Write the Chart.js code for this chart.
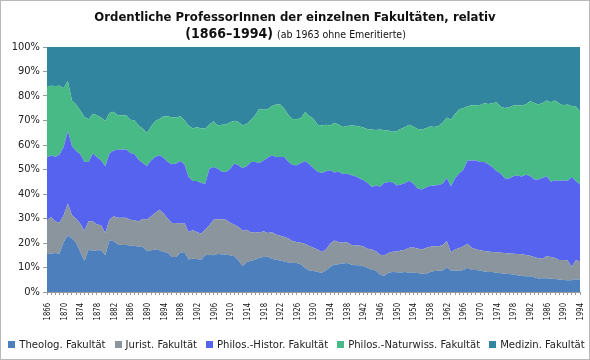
<!DOCTYPE html>
<html>
<head>
<meta charset="utf-8">
<script src="https://cdn.jsdelivr.net/npm/chart.js@4.4.0/dist/chart.umd.min.js"></script>
<style>
  html, body { margin: 0; padding: 0; background: #fff; }
  canvas { display: block; }
</style>
</head>
<body>
<canvas id="chart" width="590" height="360"></canvas>
<script>
const jahre = [
  1866,1867,1868,1869,1870,1871,1872,1873,1874,1875,1876,1877,1878,1879,1880,1881,
  1882,1883,1884,1885,1886,1887,1888,1889,1890,1891,1892,1893,1894,1895,1896,1897,
  1898,1899,1900,1901,1902,1903,1904,1905,1906,1907,1908,1909,1910,1911,1912,1913,
  1914,1915,1916,1917,1918,1919,1920,1921,1922,1923,1924,1925,1926,1927,1928,1929,
  1930,1931,1932,1933,1934,1935,1936,1937,1938,1939,1940,1941,1942,1943,1944,1945,
  1946,1947,1948,1949,1950,1951,1952,1953,1954,1955,1956,1957,1958,1959,1960,1961,
  1962,1963,1964,1965,1966,1967,1968,1969,1970,1971,1972,1973,1974,1975,1976,1977,
  1978,1979,1980,1981,1982,1983,1984,1985,1986,1987,1988,1989,1990,1991,1992,1993,
  1994
];

// Anteile in Prozent je Jahr
const theolog = [15.6,15.6,15.9,15.6,20.4,23.1,21.8,20.1,16.3,12.7, 17.3,16.7,17.0,17.0,15.0,21.1,20.7,19.5,19.2,19.2,
  19.0,18.8,18.6,18.4,16.6,17.0,17.3,17.0,16.3,16.1, 14.3,14.3,15.9,16.3,13.3,13.6,13.5,13.2,15.0,15.2,
  15.0,15.5,15.4,15.2,15.0,14.6,12.9,10.6,12.2,12.8, 13.2,14.0,14.3,14.4,13.6,13.2,12.9,12.4,12.0,11.8,
  11.8,11.2,9.8,8.8,8.6,8.2,7.9,8.8,10.2,11.2, 11.3,11.6,11.8,11.2,10.9,10.9,10.5,9.9,9.1,8.8,
  7.0,6.6,7.9,8.2,8.1,8.0,8.2,7.9,7.9,7.8, 7.4,7.3,8.2,8.6,8.7,8.8,10.0,8.8,8.8,8.6,
  9.0,9.9,9.0,9.0,8.8,8.4,8.2,8.2,7.9,7.7, 7.5,7.3,7.1,6.8,6.5,6.4,6.4,6.0,5.5,5.6,
  5.6,5.4,5.3,5.1,4.9,4.8,4.8,5.2,5.0];
const jurist = [13.7,15.0,12.9,12.8,10.9,13.0,9.5,9.8,11.6,12.2, 11.7,12.1,10.6,10.2,9.1,8.4,10.2,10.8,11.1,11.1,
  10.5,10.5,10.2,11.5,12.9,13.9,14.9,16.6,15.7,13.8, 13.9,13.9,12.0,11.9,11.2,11.6,11.0,10.6,10.4,12.0,
  14.5,14.2,14.3,14.3,13.3,12.9,13.6,14.4,13.2,11.4, 11.3,10.2,10.5,9.7,10.8,10.3,10.1,10.0,9.8,8.9,
  8.6,8.9,9.8,10.0,9.5,9.1,8.4,8.5,9.5,9.8, 9.1,8.5,8.6,8.1,8.1,8.1,8.1,7.8,8.2,7.8,
  8.2,8.4,8.0,8.2,8.4,8.9,9.0,10.2,10.3,10.0, 9.9,10.7,10.3,10.1,10.0,10.3,10.8,7.4,8.5,9.4,
  9.7,9.8,9.1,8.5,8.2,8.3,8.3,8.1,8.3,8.3, 8.4,8.4,8.5,8.7,8.9,8.7,8.4,8.3,8.3,8.0,
  9.0,8.9,8.6,8.0,8.2,8.2,5.5,7.8,7.6];
const histor = [25.5,25.2,26.3,27.7,27.9,29.6,28.2,27.7,28.3,28.2, 24.1,27.7,27.5,26.5,27.2,27.0,26.9,27.8,27.9,27.9,
  27.2,26.9,25.2,22.8,21.9,22.8,22.9,22.2,22.8,23.2, 23.9,24.2,25.6,23.9,22.4,20.1,20.8,20.7,18.8,23.1,
  21.5,20.6,19.4,19.5,22.0,24.9,25.2,25.5,26.0,28.9, 28.6,28.5,28.9,30.7,31.4,31.6,32.1,32.7,31.3,31.1,
  31.3,32.6,33.9,33.3,32.4,31.8,32.3,32.0,30.0,27.8, 28.7,28.1,27.9,28.5,28.2,27.4,27.0,26.8,25.6,26.9,
  27.9,29.5,29.0,28.4,27.0,27.0,27.3,27.3,26.0,24.4, 24.5,24.7,24.9,24.8,25.0,25.1,25.7,27.0,29.1,30.5,
  31.2,34.0,35.6,36.2,36.1,36.4,35.6,34.6,33.1,32.3, 30.4,30.6,31.6,32.1,31.7,32.8,32.5,31.6,32.1,32.9,
  32.6,30.7,31.7,32.2,32.5,32.3,36.6,32.3,31.3];
const naturwiss = [29.1,28.4,29.0,28.1,24.1,20.4,18.7,18.9,17.9,18.3, 17.4,16.3,17.0,17.5,18.5,16.6,15.8,14.0,13.9,13.9,
  13.6,13.9,14.0,14.0,13.5,13.9,14.7,14.8,16.9,18.6, 19.1,18.8,18.2,18.0,21.1,21.4,22.0,22.2,22.5,18.1,
  18.7,17.7,19.2,19.4,19.0,17.5,17.7,17.5,17.3,17.2, 19.0,22.1,20.7,19.8,20.1,21.4,21.4,19.7,19.0,18.8,
  18.8,18.3,20.0,19.7,20.2,19.2,19.4,19.0,18.3,20.3, 19.3,19.1,19.5,20.2,20.7,21.2,21.5,21.9,23.4,22.6,
  23.2,21.5,21.0,20.6,22.2,22.7,22.8,22.9,23.4,24.3, 24.5,24.1,24.2,23.8,24.1,24.9,24.7,27.1,26.4,26.1,
  25.1,22.1,22.5,22.5,23.2,23.9,24.6,26.1,28.1,27.2, 28.8,29.1,28.9,28.6,29.1,28.6,30.7,31.2,30.6,30.6,
  31.0,32.4,32.6,31.6,30.6,31.2,29.0,30.5,29.8];
const medizin = [16.1,15.8,15.9,15.8,16.7,13.9,21.8,23.5,25.9,28.6, 29.5,27.2,27.9,28.8,30.2,26.9,26.4,27.9,27.9,27.9,
  29.7,29.9,32.0,33.3,35.1,32.4,30.2,29.4,28.3,28.3, 28.8,28.8,28.3,29.9,32.0,33.3,32.7,33.3,33.3,31.6,
  30.3,32.0,31.7,31.6,30.7,30.1,30.6,32.0,31.3,29.7, 27.9,25.2,25.6,25.4,24.1,23.5,23.5,25.2,27.9,29.4,
  29.5,29.0,26.5,28.2,29.3,31.7,32.0,31.7,32.0,30.9, 31.6,32.7,32.2,32.0,32.1,32.4,32.9,33.6,33.7,33.9,
  33.7,34.0,34.1,34.6,34.3,33.4,32.7,31.7,32.4,33.5, 33.7,33.2,32.4,32.7,32.2,30.9,28.8,29.7,27.2,25.4,
  25.0,24.2,23.8,23.8,23.7,23.0,23.3,23.0,22.6,24.5, 24.9,24.6,23.9,23.8,23.8,23.5,22.0,22.9,23.5,22.9,
  21.8,22.6,21.8,23.1,23.8,23.5,24.1,24.2,26.3];

const yTicks = [0, 10, 20, 30, 40, 50, 60, 70, 80, 90, 100];

const titel = "Ordentliche ProfessorInnen der einzelnen Fakultäten, relativ";
const titel2 = "(1866–1994)";
const titel2Zusatz = "(ab 1963 ohne Emeritierte)";

const schrift = '"DejaVu Sans Condensed", "DejaVu Sans", sans-serif';

// Titel, Jahreszahlen, Legende und Rahmen
const extrasPlugin = {
  id: "extras",
  afterDraw(chart) {
    const ctx = chart.ctx;
    ctx.save();

    // Titel
    ctx.fillStyle = "#111";
    ctx.textBaseline = "alphabetic";
    ctx.textAlign = "center";
    ctx.font = "bold 13px " + schrift;
    ctx.fillText(titel, 295, 21);

    ctx.font = "bold 14px " + schrift;
    const w1 = ctx.measureText(titel2).width + 4;
    ctx.font = "10.5px " + schrift;
    const w2 = ctx.measureText(titel2Zusatz).width;
    const x0 = 295.5 - (w1 + w2) / 2;
    ctx.textAlign = "left";
    ctx.font = "bold 14px " + schrift;
    ctx.fillText(titel2, x0, 38);
    ctx.font = "10.5px " + schrift;
    ctx.fillText(titel2Zusatz, x0 + w1, 38);

    // Jahreszahlen (alle 4 Jahre, senkrecht)
    const xs = chart.scales.x;
    ctx.fillStyle = "#111";
    ctx.font = "9.5px " + schrift;
    ctx.textAlign = "right";
    ctx.textBaseline = "middle";
    jahre.forEach((j, i) => {
      if ((j - jahre[0]) % 4 !== 0) return;
      const px = xs.getPixelForValue(i);
      ctx.save();
      ctx.translate(px + 0.5, xs.top + 11);
      ctx.rotate(-Math.PI / 2);
      ctx.scale(0.8, 1);
      ctx.fillText(String(j), 0, 0);
      ctx.restore();
    });

    // Legende
    const items = chart.data.datasets;
    ctx.font = "11.2px " + schrift;
    ctx.textAlign = "left";
    ctx.textBaseline = "middle";
    const box = 7, gapBox = 4, gapItem = 9;
    const widths = items.map(d => ctx.measureText(d.label).width);
    const total = widths.reduce((a, w) => a + box + gapBox + w, 0) + gapItem * (items.length - 1);
    let x = 296.5 - total / 2;
    const y = 345;
    items.forEach((d, i) => {
      ctx.fillStyle = d.backgroundColor;
      ctx.fillRect(Math.round(x), y - 4, box, box);
      x += box + gapBox;
      ctx.fillStyle = "#222";
      ctx.fillText(d.label, x, y);
      x += widths[i] + gapItem;
    });

    // Rahmen
    ctx.strokeStyle = "#b8b8b8";
    ctx.lineWidth = 1;
    ctx.strokeRect(0.5, 0.5, 589, 359);
    ctx.restore();
  }
};

function reihe(label, data, farbe, fill) {
  return {
    label: label,
    data: data,
    backgroundColor: farbe,
    borderColor: farbe,
    borderWidth: 0,
    pointRadius: 0,
    pointHoverRadius: 0,
    tension: 0,
    fill: fill
  };
}

new Chart(document.getElementById("chart"), {
  type: "line",
  data: {
    labels: jahre,
    datasets: [
      reihe("Theolog. Fakultät", theolog, "#4c7fbb", "origin"),
      reihe("Jurist. Fakultät", jurist, "#8a959d", "-1"),
      reihe("Philos.-Histor. Fakultät", histor, "#5563ef", "-1"),
      reihe("Philos.-Naturwiss. Fakultät", naturwiss, "#48ba86", "-1"),
      reihe("Medizin. Fakultät", medizin, "#31859e", "-1")
    ]
  },
  options: {
    responsive: false,
    animation: false,
    layout: { padding: { top: 47, right: 10, bottom: 32, left: 0 } },
    plugins: {
      legend: { display: false },
      tooltip: { enabled: false }
    },
    scales: {
      x: {
        type: "category",
        offset: false,
        grid: { display: true, drawOnChartArea: false, tickLength: 3, color: "#9a9a9a" },
        border: { color: "#9a9a9a" },
        ticks: { display: false, autoSkip: false },
        afterFit: function (s) { s.height = 36; }
      },
      y: {
        stacked: true,
        min: 0,
        max: 100,
        grid: { display: true, drawOnChartArea: false, tickLength: 4, color: "#9a9a9a" },
        border: { color: "#9a9a9a" },
        afterBuildTicks: function (s) { s.ticks = yTicks.map(v => ({ value: v })); },
        ticks: {
          padding: 3,
          color: "#222",
          font: { family: schrift, size: 11 },
          callback: v => v + "%"
        },
        afterFit: function (s) { s.width = 47; }
      }
    }
  },
  plugins: [extrasPlugin]
});
</script>
</body>
</html>
